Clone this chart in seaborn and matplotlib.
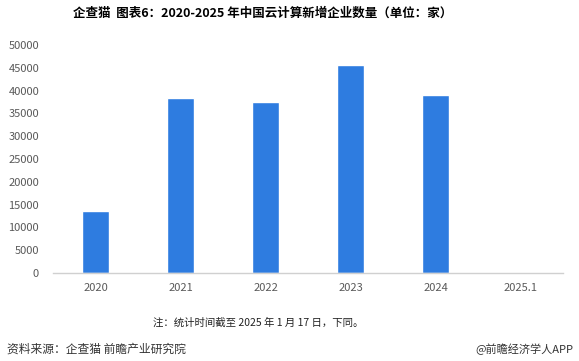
import matplotlib
matplotlib.use("Agg")
import matplotlib.pyplot as plt
import seaborn as sns
import pandas as pd

categories = ["2020", "2021", "2022", "2023", "2024", "2025.1"]
values = [13600, 38400, 37500, 45600, 39100, 0]
yticks = [0, 5000, 10000, 15000, 20000, 25000, 30000, 35000, 40000, 45000, 50000]

title = "企查猫  图表6：2020-2025 年中国云计算新增企业数量（单位：家）"
note = "注：统计时间截至 2025 年 1 月 17 日，下同。"
source = "资料来源：企查猫 前瞻产业研究院"
brand = "@前瞻经济学人APP"

sns.set_theme(style="white")
plt.rcParams['font.family'] = ['Noto Sans CJK SC', 'DejaVu Sans']

df = pd.DataFrame({"year": categories, "count": values})

fig = plt.figure(figsize=(5.79, 3.61), dpi=100)
ax = fig.add_axes([53/579, 1 - 273/361, 510/579, (273 - 45)/361])

sns.barplot(data=df, x="year", y="count", ax=ax, color="#2E7CE0",
            saturation=1, width=0.31)

ax.set_ylim(0, 50000)
ax.set_xlim(-0.5, 5.5)
ax.set_yticks(yticks)
ax.set_yticklabels([str(v) for v in yticks])
ax.set_xlabel("")
ax.set_ylabel("")
for s in ["top", "right", "left"]:
    ax.spines[s].set_visible(False)
ax.spines["bottom"].set_color("#D0D0D0")
ax.spines["bottom"].set_linewidth(1.0)
ax.tick_params(axis="both", length=0, labelsize=8, labelcolor="#595959")
ax.tick_params(axis="y", pad=10)
ax.tick_params(axis="x", pad=7)
ax.grid(False)

fig.text(263/579, 1 - 13/361, title, ha="center", va="center",
         fontsize=9, fontweight="bold", color="#000000")
fig.text(258/579, 1 - 323/361, note, ha="center", va="center",
         fontsize=7.5, color="#222222")
fig.text(7/579, 1 - 349/361, source, ha="left", va="center",
         fontsize=8.5, color="#333333")
fig.text(573/579, 1 - 349/361, brand, ha="right", va="center",
         fontsize=8, color="#333333")

fig.savefig("out.png", dpi=100, facecolor="white")
